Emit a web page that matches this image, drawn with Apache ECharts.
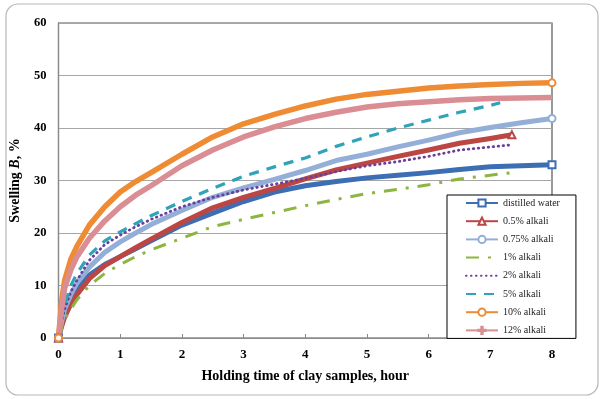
<!DOCTYPE html>
<html>
<head>
<meta charset="utf-8">
<script src="https://cdn.jsdelivr.net/npm/echarts@6/dist/echarts.min.js"></script>
<style>
html,body{margin:0;padding:0;background:#fff;}
#chart{width:604px;height:399px;}
</style>
</head>
<body>
<div id="chart"></div>
<script>
// Holding time (hours)
const hoursA = [0,0.05,0.1,0.2,0.3,0.5,0.75,1,1.25,1.5,2,2.5,3,3.5,4,4.5,5,5.5,6,6.5,7,7.5,8];
const hoursB = [0,0.05,0.1,0.2,0.3,0.5,0.75,1,1.25,1.5,2,2.5,3,3.5,4,4.5,5,5.5,6,6.5,7,7.35];
const hoursC = [0,0.05,0.1,0.2,0.3,0.5,0.75,1,1.25,1.5,2,2.5,3,3.5,4,4.5,5,5.5,6,6.5,7,7.16];

// Swelling B, %
const distilledWater = [0,2.5,4.5,7.3,9.2,12,14,15.5,17,18.5,21.5,23.8,26,27.8,29,29.8,30.5,31,31.5,32.1,32.6,32.8,33];
const alkali05  = [0,2.2,4,6.5,8.3,11.3,13.8,15.5,17.2,18.8,22,24.8,26.8,28.5,30.3,32,33.3,34.6,35.8,37.1,38,38.7];
const alkali075 = [0,3,5.5,8.3,10.5,13.5,16.3,18.3,20,21.6,24.3,26.8,28.6,30.2,31.9,33.8,35,36.4,37.7,39.1,40.1,41,41.8];
const alkali1   = [0,2,3.5,5.5,7.3,10,12.3,14,15.5,16.8,19,21.2,22.6,23.9,25.2,26.4,27.5,28.3,29.2,30.3,31,31.5];
const alkali2   = [0,3,5.5,8.8,11,14.8,17.8,19.6,21.2,22.6,25,26.8,28.2,29.3,30.4,31.7,32.8,33.6,34.6,35.8,36.4,36.8];
const alkali5   = [0,4,6.5,10,12.3,15.8,18.5,20.2,21.8,23.3,26,28.5,30.8,32.6,34.3,36.5,38.3,40,41.5,43,44.3,44.8];
const alkali10  = [0,7,11,15,17.5,21.5,25,27.8,29.8,31.5,35,38.3,40.8,42.6,44.2,45.5,46.4,47,47.6,48,48.3,48.5,48.6];
const alkali12  = [0,5.5,9.5,13,15.5,19,22.3,25,27.2,29,32.8,35.8,38.3,40.2,41.8,43,44,44.6,45,45.4,45.6,45.7,45.8];

const seriesNames = ['distilled water','0.5% alkali','0.75% alkali','1% alkali','2% alkali','5% alkali','10% alkali','12% alkali'];
const xTicks = [0,1,2,3,4,5,6,7,8];
const yTicks = [0,10,20,30,40,50,60];

const serif = 'Liberation Serif, Times New Roman, serif';
const PLUS = 'path://M4,0h2v10h-2z M0,4h10v2h-10z';

function pts(h, v){ return v.map((y,i)=>[h[i], y]); }

// marker: symbol shown at the ends of the curve; legendOnly: symbol only in legend
function mk(name, h, v, color, lineStyle, marker, legendOnly){
  const n = v.length;
  const hasMarker = !!marker && !legendOnly;
  return {
    name: name,
    type: 'line',
    data: pts(h, v),
    smooth: false,
    symbol: marker || 'circle',
    symbolSize: function(val, p){ return hasMarker && (p.dataIndex === n-1 || p.dataIndex === 0) ? 7 : 0; },
    showSymbol: hasMarker,
    itemStyle: marker ? {color: color, borderColor: color, borderWidth: 1.5} : {color: 'rgba(0,0,0,0)', borderColor: 'rgba(0,0,0,0)'},
    lineStyle: Object.assign({color: color, join: 'round'}, lineStyle),
    emphasis: {disabled: true},
    animation: false
  };
}

const chart = echarts.init(document.getElementById('chart'), null, {renderer:'canvas'});
chart.setOption({
  animation: false,
  backgroundColor: '#fff',
  graphic: [{
    type: 'rect',
    shape: {x: 6, y: 4, width: 592, height: 391, r: 12},
    style: {fill: 'none', stroke: '#b8b8b8', lineWidth: 1.2},
    z: -1
  }],
  grid: {left: 58.5, right: 52, top: 23, bottom: 61, show: true, borderColor: '#555', borderWidth: 1.2, backgroundColor: 'transparent'},
  legend: {
    orient: 'vertical',
    left: 447, top: 195,
    data: seriesNames,
    itemWidth: 32, itemHeight: 9, itemGap: 8.2,
    padding: [3, 16, 3, 18],
    backgroundColor: '#fff',
    borderColor: '#000', borderWidth: 1,
    textStyle: {fontFamily: serif, fontSize: 10, color: '#222'}
  },
  xAxis: {
    type: 'value', min: 0, max: 8, interval: 1,
    name: 'Holding time of clay samples, hour',
    nameLocation: 'middle', nameGap: 31,
    nameTextStyle: {fontFamily: serif, fontWeight: 'bold', fontSize: 14, color: '#000'},
    axisLine: {show: true, lineStyle: {color: '#8a8a8a', width: 1.2}},
    axisTick: {show: true, inside: true, length: 4, lineStyle: {color: '#8a8a8a'}},
    axisLabel: {fontFamily: serif, fontWeight: 'bold', fontSize: 13, color: '#000', margin: 10,
      formatter: function(v){ return xTicks.indexOf(v) >= 0 ? String(v) : ''; }},
    splitLine: {show: false}
  },
  yAxis: {
    type: 'value', min: 0, max: 60, interval: 10,
    name: '{a|Swelling }{b|B}{a|, %}',
    nameLocation: 'middle', nameGap: 36, nameRotate: 90,
    nameTextStyle: {rich: {
      a: {fontFamily: serif, fontWeight: 'bold', fontSize: 14, color: '#000'},
      b: {fontFamily: serif, fontWeight: 'bold', fontStyle: 'italic', fontSize: 14, color: '#000'}
    }},
    axisLine: {show: true, lineStyle: {color: '#8a8a8a', width: 1.2}},
    axisTick: {show: false},
    axisLabel: {fontFamily: serif, fontWeight: 'bold', fontSize: 12.5, color: '#000', margin: 12,
      formatter: function(v){ return yTicks.indexOf(v) >= 0 ? String(v) : ''; }},
    splitLine: {show: true, lineStyle: {color: '#a6a6a6', width: 1}}
  },
  series: [
    mk(seriesNames[0], hoursA, distilledWater, '#3D6DB3', {width: 5}, 'emptyRect'),
    mk(seriesNames[1], hoursB, alkali05, '#BC4643', {width: 5}, 'emptyTriangle'),
    mk(seriesNames[2], hoursA, alkali075, '#93AFD8', {width: 5}, 'emptyCircle'),
    mk(seriesNames[3], hoursB, alkali1, '#8DB53F', {width: 3, type: [13, 9, 3, 9]}),
    mk(seriesNames[4], hoursB, alkali2, '#6A3F9C', {width: 2.8, type: [0.5, 4.5], cap: 'round'}),
    mk(seriesNames[5], hoursC, alkali5, '#2FA3B8', {width: 3.2, type: [10, 8]}),
    mk(seriesNames[6], hoursA, alkali10, '#EE8B33', {width: 5.5}, 'emptyCircle'),
    mk(seriesNames[7], hoursA, alkali12, '#DA8E93', {width: 5.5}, PLUS, true)
  ]
});
</script>
</body>
</html>
